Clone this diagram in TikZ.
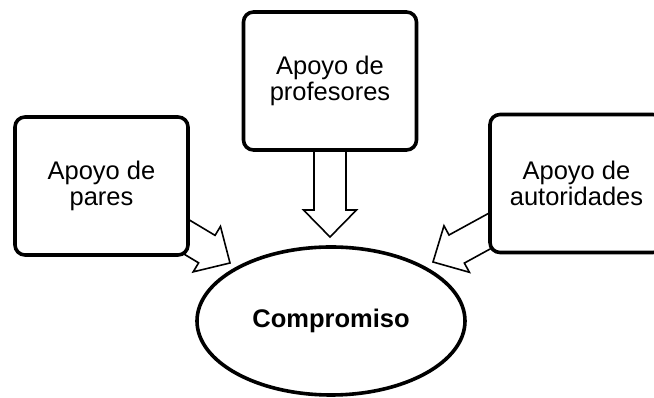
\documentclass[tikz,border=0pt]{standalone}
\usepackage{fontspec}
\setmainfont{Liberation Sans}
\usetikzlibrary{shapes,backgrounds,calc}

\newcommand{\blockarrow}[2]{%
  \draw[blockline] let \p1=($(#2)-(#1)$), \n1={atan2(\y1,\x1)}, \n2={veclen(\x1,\y1)} in
    ($(#1)+(\n1+90:16pt)$) -- ($(#1)+(\n1:\n2-27pt)+(\n1+90:16pt)$)
    -- ($(#1)+(\n1:\n2-27pt)+(\n1+90:26.5pt)$) -- (#2)
    -- ($(#1)+(\n1:\n2-27pt)+(\n1-90:26.5pt)$) -- ($(#1)+(\n1:\n2-27pt)+(\n1-90:16pt)$)
    -- ($(#1)+(\n1-90:16pt)$) -- cycle;}

\begin{document}
\begin{tikzpicture}[x=1pt, y=1pt,
    box/.style = {draw, line width=3.6pt, rounded corners=10pt, fill=white, minimum width=173pt, minimum height=138pt, inner sep=0pt, align=center, font=\fontsize{25.5}{26.5}\selectfont},
    goal/.style = {draw, ellipse, line width=3.6pt, fill=white, minimum width=268pt, minimum height=148pt, inner sep=0pt, font=\fontsize{25.5}{26.5}\selectfont\bfseries},
    blockline/.style = {draw, line width=1.6pt, fill=white, line join=miter}]
                  \useasboundingbox (0,0) rectangle (654,398);
                  \node[goal] (compromiso) at (331,77) {Compromiso};
                  \node[box] (pares) at (101.5,212) {Apoyo de\\pares};
                  \node[box] (profesores) at (330,317) {Apoyo de\\profesores};
                  \node[box] (autoridades) at (576.5,214.5) {Apoyo de\\autoridades};
                  \coordinate (tipPares) at (230,135);
                  \coordinate (tipProfesores) at (330,161);
                  \coordinate (tipAutoridades) at (433,136);
                  \begin{scope}[on background layer]
                  \blockarrow{pares.center}{tipPares}
                  \blockarrow{profesores.center}{tipProfesores}
                  \blockarrow{autoridades.center}{tipAutoridades}
                  \end{scope}
              \end{tikzpicture}
\end{document}
